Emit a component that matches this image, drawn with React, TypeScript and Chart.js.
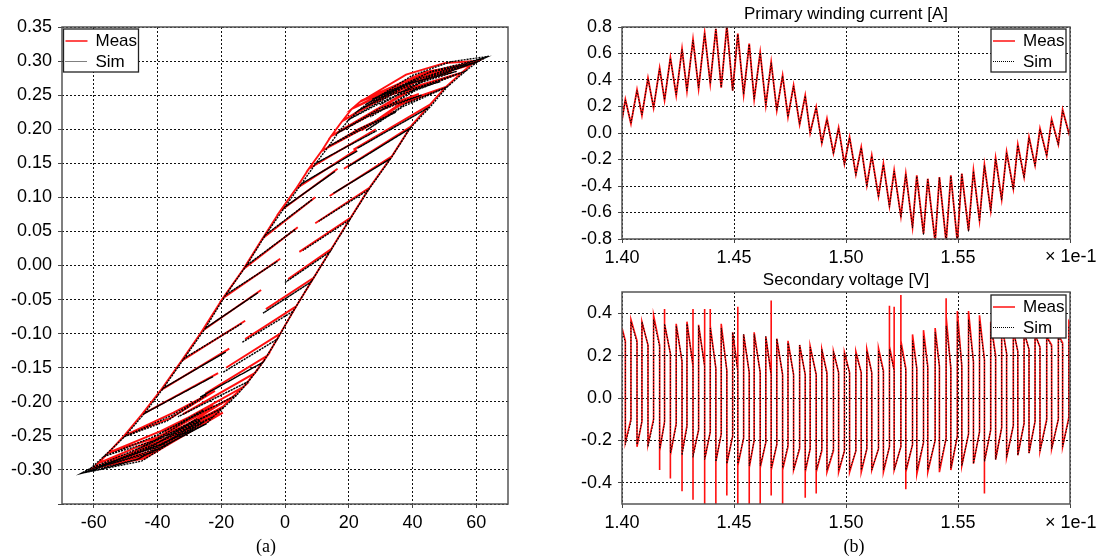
import React, { useEffect, useRef } from "react";
import { Chart, registerables } from "chart.js";

Chart.register(...registerables);

const SANS = '"Liberation Sans", Arial, Helvetica, sans-serif';
const SERIF = '"Liberation Serif", "Times New Roman", serif';
const RED = "#ff1010";

// ---------------- (a) B-H loop ----------------
const hystXTicks = [-60, -40, -20, 0, 20, 40, 60];
const hystYTicks = [-0.35, -0.3, -0.25, -0.2, -0.15, -0.1, -0.05, 0, 0.05, 0.1, 0.15, 0.2, 0.25, 0.3, 0.35];

// simulated trajectory [H, B]
const hystSimPath: [number, number][] = [
  [0, -0.025], [14.1, 0.02], [20.3, 0.067], [5.6, 0.022], [20.3, 0.067], [26.2, 0.111], [10.6, 0.065], [26.2, 0.111],
  [33.2, 0.157], [15.2, 0.106], [33.2, 0.157], [39.2, 0.201], [19.8, 0.145], [39.2, 0.201], [45.6, 0.233], [22.7, 0.172],
  [45.6, 0.233], [50.9, 0.262], [37, 0.233], [25.4, 0.198], [38, 0.238], [50.9, 0.262], [56.6, 0.285], [41, 0.257],
  [26.8, 0.218], [42, 0.262], [56.6, 0.285], [60.4, 0.299], [44, 0.272], [29.8, 0.236], [45, 0.277], [60.4, 0.299],
  [63, 0.305], [46, 0.285], [27.4, 0.244], [42, 0.274], [64, 0.307], [52, 0.299], [40, 0.279], [25.6, 0.237],
  [40, 0.268], [60, 0.298], [45, 0.283], [25.6, 0.237], [23.2, 0.228], [37, 0.26], [53.9, 0.285], [38, 0.266],
  [23.2, 0.228], [20.3, 0.215], [33, 0.246], [48.8, 0.27], [34, 0.252], [20.3, 0.215], [16.7, 0.195], [29, 0.226],
  [42.9, 0.25], [30, 0.231], [16.7, 0.195], [13.7, 0.175], [24, 0.202], [34.8, 0.225], [13.7, 0.175], [9.7, 0.15],
  [28.8, 0.198], [9.7, 0.15], [5.2, 0.12], [22.7, 0.168], [5.2, 0.12], [0, 0.086], [15.7, 0.138], [0, 0.086],
  [-6.1, 0.045], [8.6, 0.097], [-6.1, 0.045], [-12.1, 0], [3.2, 0.053], [-12.1, 0], [-18.6, -0.043], [-2.4, 0.006],
  [-18.6, -0.043], [-25, -0.092], [-8.5, -0.04], [-25, -0.092], [-31.6, -0.136], [-13.5, -0.085], [-31.6, -0.136], [-38.2, -0.18],
  [-18.6, -0.127], [-38.2, -0.18], [-44.1, -0.217], [-22.6, -0.163], [-44.1, -0.217], [-50.3, -0.251], [-37, -0.228], [-24.6, -0.19],
  [-36, -0.221], [-50.3, -0.251], [-56.8, -0.28], [-41, -0.257], [-25.6, -0.212], [-40, -0.249], [-56.8, -0.28], [-60.8, -0.297],
  [-44, -0.272], [-27.6, -0.225], [-43, -0.263], [-60.8, -0.297], [-64, -0.305], [-46, -0.284], [-26.6, -0.228], [-45, -0.272],
  [-64, -0.305], [-45, -0.287], [-25.6, -0.23], [-44, -0.275], [-64, -0.305], [-57, -0.298], [-46.6, -0.285], [-36.1, -0.26],
  [-24.6, -0.232], [-42, -0.268], [-58.8, -0.296], [-42, -0.275], [-24.6, -0.232], [-22.6, -0.222], [-38, -0.256], [-52.7, -0.285],
  [-38, -0.262], [-22.6, -0.222], [-19.1, -0.208], [-33, -0.241], [-46.7, -0.27], [-19.1, -0.208], [-15.1, -0.19], [-40, -0.248],
  [-15.1, -0.19], [-11.4, -0.17], [-33.6, -0.222], [-11.4, -0.17], [-6.9, -0.142], [-26.6, -0.193], [-6.9, -0.142], [-2.4, -0.108],
  [-19.5, -0.157], [-2.4, -0.108], [2.6, -0.067], [-13.5, -0.113], [2.6, -0.067], [8.2, -0.024], [-6.9, -0.07], [8.2, -0.024],
  [14.1, 0.02], [0, -0.025],
];

// measured trajectory [H, B]
const hystMeasPath: [number, number][] = [
  [1, -0.02], [14.5, 0.024], [20.6, 0.07], [4.5, 0.02], [20.6, 0.07], [26.5, 0.114], [9.5, 0.062], [26.5, 0.114],
  [33.5, 0.16], [14, 0.102], [33.5, 0.16], [39.5, 0.204], [18.5, 0.142], [39.5, 0.204], [45.5, 0.236], [21.5, 0.17],
  [45.5, 0.236], [50.5, 0.262], [36, 0.235], [24, 0.198], [37, 0.24], [50.5, 0.262], [55.5, 0.283], [40, 0.258],
  [25.5, 0.22], [41, 0.263], [55.5, 0.283], [58.5, 0.295], [43, 0.274], [28, 0.238], [44, 0.279], [58.5, 0.295],
  [60.5, 0.3], [45, 0.284], [25.5, 0.244], [41, 0.276], [60, 0.3], [50, 0.297], [38, 0.28], [23.5, 0.24],
  [39, 0.272], [57.5, 0.295], [44, 0.284], [24, 0.242], [21, 0.23], [36, 0.263], [52.5, 0.284], [37, 0.268],
  [21, 0.23], [18, 0.212], [32, 0.249], [47.5, 0.27], [33, 0.255], [18, 0.212], [14.5, 0.19], [28, 0.224],
  [42, 0.252], [29, 0.23], [14.5, 0.19], [11.5, 0.168], [23, 0.2], [34.5, 0.226], [11.5, 0.168], [7.5, 0.142],
  [28.5, 0.2], [7.5, 0.142], [3.5, 0.113], [22.5, 0.17], [3.5, 0.113], [-1.5, 0.08], [16.5, 0.142], [-1.5, 0.08],
  [-7, 0.04], [9.5, 0.1], [-7, 0.04], [-13, -0.005], [4, 0.056], [-13, -0.005], [-19.5, -0.048], [-1.5, 0.01],
  [-19.5, -0.048], [-26, -0.096], [-7.5, -0.036], [-26, -0.096], [-32.5, -0.14], [-12.5, -0.081], [-32.5, -0.14], [-39, -0.183],
  [-17.5, -0.122], [-39, -0.183], [-45, -0.219], [-21, -0.158], [-45, -0.219], [-50.5, -0.25], [-36, -0.224], [-22, -0.184],
  [-35, -0.216], [-50.5, -0.25], [-55.5, -0.275], [-40, -0.252], [-22.5, -0.205], [-39, -0.243], [-55.5, -0.275], [-58.5, -0.29],
  [-42, -0.266], [-21, -0.212], [-41, -0.256], [-58.5, -0.29], [-60.5, -0.298], [-44, -0.28], [-20.5, -0.215], [-43, -0.266],
  [-60.5, -0.298], [-44, -0.283], [-19.5, -0.216], [-42, -0.268], [-60, -0.297], [-54, -0.292], [-44, -0.277], [-33, -0.25],
  [-21, -0.215], [-40, -0.262], [-57, -0.292], [-40, -0.27], [-21, -0.215], [-19.5, -0.207], [-36, -0.25], [-51, -0.28],
  [-36, -0.256], [-19.5, -0.207], [-16.5, -0.193], [-31, -0.234], [-45, -0.265], [-16.5, -0.193], [-13, -0.178], [-38, -0.243],
  [-13, -0.178], [-9.5, -0.158], [-32, -0.218], [-9.5, -0.158], [-5.5, -0.132], [-25, -0.188], [-5.5, -0.132], [-1.5, -0.1],
  [-18.5, -0.15], [-1.5, -0.1], [3.5, -0.06], [-12.5, -0.108], [3.5, -0.06], [9, -0.018], [-6, -0.064], [9, -0.018],
  [14.5, 0.024], [1, -0.02],
];

// ---------------- (b) time signals (time in units of 1e-1 s) ----------------
const timeTicks = [1.4, 1.45, 1.5, 1.55, 1.6];
const currentTicks = [-0.8, -0.6, -0.4, -0.2, 0, 0.2, 0.4, 0.6, 0.8];
const voltageTicks = [-0.4, -0.2, 0, 0.2, 0.4];
const timeStart = 1.4;
const timeEnd = 1.6;

// switching instants: current peaks (voltage falls) and current valleys (voltage rises)
const peakTime = [
  1.4015, 1.4067, 1.4116, 1.4168, 1.4216, 1.4268, 1.4317, 1.4369, 1.4419, 1.4468,
  1.4517, 1.4568, 1.4617, 1.4666, 1.4717, 1.4766, 1.4818, 1.4867, 1.4915, 1.4967,
  1.5016, 1.5068, 1.5115, 1.5167, 1.5215, 1.5267, 1.5316, 1.5365, 1.5417, 1.5468,
  1.5517, 1.5569, 1.5618, 1.5668, 1.5717, 1.5767, 1.5817, 1.5866, 1.5918, 1.5967,
];
const valleyTime = [
  1.404, 1.4089, 1.4141, 1.419, 1.4242, 1.429, 1.4342, 1.4394, 1.4443, 1.4494,
  1.4543, 1.459, 1.4642, 1.4691, 1.4741, 1.4793, 1.484, 1.4892, 1.4944, 1.4993,
  1.5044, 1.5093, 1.5145, 1.5194, 1.5245, 1.5297, 1.5346, 1.5398, 1.5447, 1.5497,
  1.5547, 1.5596, 1.5646, 1.5695, 1.5747, 1.5795, 1.5844, 1.5896, 1.5948, 1.5995,
];

// primary current [A]
const currentMeasStart = 0.1;
const currentMeasEnd = 0.03;
const currentMeasPeak = [
  0.254, 0.327, 0.415, 0.49, 0.57, 0.636, 0.707, 0.755, 0.787, 0.81,
  0.75, 0.674, 0.61, 0.536, 0.435, 0.36, 0.284, 0.196, 0.108, 0.04,
  -0.03, -0.106, -0.169, -0.232, -0.282, -0.307, -0.32, -0.345, -0.332, -0.32,
  -0.307, -0.282, -0.239, -0.189, -0.143, -0.086, -0.03, 0.033, 0.103, 0.176,
];
const currentMeasValley = [
  0.07, 0.133, 0.19, 0.247, 0.284, 0.317, 0.335, 0.372, 0.342, 0.32,
  0.29, 0.254, 0.209, 0.171, 0.121, 0.065, 0.0, -0.076, -0.151, -0.232,
  -0.312, -0.395, -0.478, -0.551, -0.629, -0.71, -0.76, -0.82, -0.82, -0.82,
  -0.735, -0.659, -0.584, -0.5, -0.42, -0.332, -0.244, -0.169, -0.086, 0.0,
];
const currentSimStart = 0.09;
const currentSimEnd = 0.02;
const currentSimPeak = [
  0.25, 0.32, 0.41, 0.485, 0.565, 0.63, 0.7, 0.75, 0.785, 0.8,
  0.745, 0.67, 0.605, 0.53, 0.43, 0.355, 0.28, 0.19, 0.1, 0.033,
  -0.036, -0.112, -0.175, -0.238, -0.288, -0.312, -0.326, -0.35, -0.337, -0.325,
  -0.312, -0.288, -0.245, -0.195, -0.15, -0.092, -0.036, 0.027, 0.097, 0.17,
];
const currentSimValley = [
  0.075, 0.137, 0.195, 0.25, 0.288, 0.32, 0.34, 0.375, 0.345, 0.322,
  0.292, 0.256, 0.21, 0.172, 0.122, 0.066, 0.0, -0.08, -0.158, -0.24,
  -0.32, -0.403, -0.486, -0.56, -0.638, -0.718, -0.77, -0.82, -0.82, -0.82,
  -0.745, -0.668, -0.592, -0.508, -0.428, -0.34, -0.25, -0.175, -0.092, -0.005,
];

// secondary voltage [V]
const voltMeasStart = 0.33;
const voltMeasEnd = 0.35;
const voltMeasHiPeak = [
  0.37, 0.36, 0.39, 0.35, 0.35, 0.36, 0.345, 0.34, 0.35, 0.31,
  0.3, 0.31, 0.29, 0.28, 0.27, 0.25, 0.245, 0.23, 0.22, 0.215,
  0.22, 0.23, 0.235, 0.245, 0.27, 0.3, 0.32, 0.33, 0.385, 0.41,
  0.41, 0.39, 0.36, 0.355, 0.32, 0.31, 0.3, 0.29, 0.3, 0.36,
];
const voltMeasHiEnd = [
  0.27, 0.27, 0.25, 0.25, 0.21, 0.17, 0.15, 0.15, 0.14, 0.13,
  0.13, 0.12, 0.12, 0.11, 0.11, 0.11, 0.11, 0.11, 0.12, 0.12,
  0.12, 0.12, 0.12, 0.13, 0.13, 0.14, 0.14, 0.15, 0.15, 0.14,
  0.15, 0.17, 0.18, 0.2, 0.21, 0.22, 0.23, 0.24, 0.25, 0.26,
];
const voltMeasLoStart = [
  -0.21, -0.23, -0.22, -0.25, -0.27, -0.26, -0.27, -0.29, -0.3, -0.31,
  -0.32, -0.33, -0.33, -0.34, -0.34, -0.34, -0.35, -0.35, -0.35, -0.35,
  -0.35, -0.35, -0.34, -0.35, -0.34, -0.35, -0.36, -0.35, -0.35, -0.34,
  -0.32, -0.31, -0.3, -0.29, -0.28, -0.27, -0.26, -0.25, -0.24, -0.23,
];
const voltMeasLoEnd = [
  -0.1, -0.11, -0.1, -0.11, -0.12, -0.13, -0.15, -0.16, -0.17, -0.18,
  -0.19, -0.2, -0.21, -0.22, -0.23, -0.24, -0.24, -0.25, -0.25, -0.25,
  -0.25, -0.24, -0.24, -0.23, -0.23, -0.22, -0.21, -0.2, -0.19, -0.18,
  -0.17, -0.16, -0.15, -0.14, -0.13, -0.12, -0.11, -0.1, -0.1, -0.09,
];
// measured switching overshoots (null = none)
const voltMeasSpikeDownHi = [
  null, null, null, null, null, null, 0.42, 0.42, null, null,
  0.43, null, null, 0.46, null, null, null, null, null, null,
  null, null, null, null, 0.43, null, null, null, null, null,
  null, null, null, null, null, null, null, null, null, null,
];
const voltMeasSpikeDownLo = [
  null, null, null, -0.34, -0.38, -0.44, -0.48, -0.52, -0.52, -0.46,
  -0.52, -0.52, -0.52, -0.46, -0.52, null, -0.47, -0.45, null, null,
  null, null, null, null, null, -0.43, null, null, null, null,
  null, null, -0.45, null, null, null, null, null, null, null,
];
const voltMeasSpikeUpHi = [
  null, null, null, 0.42, null, null, null, 0.42, null, null,
  null, null, null, null, null, null, null, null, null, null,
  null, null, null, 0.435, 0.486, null, null, null, 0.47, null,
  null, null, null, null, null, null, null, null, null, null,
];
const voltSimStart = 0.32;
const voltSimEnd = 0.34;
const voltSimHiPeak = [
  0.36, 0.36, 0.37, 0.35, 0.34, 0.35, 0.34, 0.33, 0.33, 0.31,
  0.3, 0.3, 0.29, 0.28, 0.26, 0.25, 0.24, 0.23, 0.22, 0.21,
  0.21, 0.22, 0.22, 0.23, 0.25, 0.27, 0.29, 0.31, 0.34, 0.36,
  0.37, 0.36, 0.35, 0.34, 0.32, 0.31, 0.3, 0.29, 0.29, 0.34,
];
const voltSimHiEnd = [
  0.26, 0.26, 0.25, 0.24, 0.21, 0.18, 0.16, 0.15, 0.14, 0.13,
  0.13, 0.12, 0.12, 0.11, 0.11, 0.11, 0.11, 0.11, 0.11, 0.12,
  0.12, 0.12, 0.12, 0.12, 0.13, 0.13, 0.14, 0.14, 0.15, 0.15,
  0.16, 0.17, 0.18, 0.19, 0.21, 0.22, 0.23, 0.24, 0.24, 0.25,
];
const voltSimLoStart = [
  -0.22, -0.22, -0.23, -0.24, -0.26, -0.27, -0.28, -0.29, -0.3, -0.31,
  -0.31, -0.32, -0.32, -0.33, -0.33, -0.34, -0.34, -0.34, -0.34, -0.34,
  -0.34, -0.34, -0.34, -0.34, -0.34, -0.34, -0.34, -0.34, -0.33, -0.33,
  -0.32, -0.31, -0.3, -0.29, -0.28, -0.27, -0.26, -0.25, -0.24, -0.23,
];
const voltSimLoEnd = [
  -0.11, -0.11, -0.11, -0.12, -0.13, -0.14, -0.15, -0.16, -0.17, -0.18,
  -0.19, -0.2, -0.21, -0.22, -0.22, -0.23, -0.24, -0.24, -0.24, -0.25,
  -0.25, -0.24, -0.24, -0.23, -0.23, -0.22, -0.21, -0.2, -0.19, -0.18,
  -0.17, -0.16, -0.15, -0.14, -0.13, -0.12, -0.11, -0.11, -0.1, -0.1,
];

// ---------------- builders ----------------
type Pt = { x: number; y: number };

function pathPoints(path: [number, number][]): Pt[] {
  return path.map(([x, y]) => ({ x, y }));
}

function currentPoints(start: number, peaks: number[], valleys: number[], end: number): Pt[] {
  const pts: Pt[] = [{ x: timeStart, y: start }];
  for (let k = 0; k < peakTime.length; k++) {
    pts.push({ x: peakTime[k], y: peaks[k] });
    pts.push({ x: valleyTime[k], y: valleys[k] });
  }
  pts.push({ x: timeEnd, y: end });
  return pts;
}

function voltagePoints(
  start: number, hiPeak: number[], hiEnd: number[], loStart: number[], loEnd: number[], end: number,
  spDownHi?: (number | null)[], spDownLo?: (number | null)[], spUpHi?: (number | null)[]
): Pt[] {
  const pts: Pt[] = [{ x: timeStart, y: start }];
  for (let k = 0; k < peakTime.length; k++) {
    const tp = peakTime[k];
    const tv = valleyTime[k];
    pts.push({ x: tp, y: hiEnd[k] });
    if (spDownHi && spDownHi[k] != null) pts.push({ x: tp, y: spDownHi[k] as number });
    if (spDownLo && spDownLo[k] != null) pts.push({ x: tp, y: spDownLo[k] as number });
    pts.push({ x: tp, y: loStart[k] });
    pts.push({ x: tv, y: loEnd[k] });
    if (spUpHi && spUpHi[k] != null) pts.push({ x: tv, y: spUpHi[k] as number });
    pts.push({ x: tv, y: hiPeak[k] });
  }
  pts.push({ x: timeEnd, y: end });
  return pts;
}

// ---------------- decoration plugin ----------------
function decorPlugin(opts: { legendSide: "left" | "right"; legendTop: number; title?: string; titleY?: number; exponentY?: number }) {
  return {
    id: "decor",
    afterDraw(chart: any) {
      const { ctx, chartArea: a } = chart;
      ctx.save();
      ctx.setLineDash([]);
      // frame
      ctx.strokeStyle = "#555";
      ctx.lineWidth = 1.5;
      ctx.strokeRect(a.left, a.top, a.right - a.left, a.bottom - a.top);
      // legend box
      const w = 75;
      const h = 43;
      const bx = opts.legendSide === "left" ? a.left + 1.5 : a.right - 4 - w;
      const by = a.top + opts.legendTop;
      ctx.fillStyle = "#fff";
      ctx.fillRect(bx, by, w, h);
      ctx.strokeStyle = "#222";
      ctx.lineWidth = 1.3;
      ctx.strokeRect(bx, by, w, h);
      ctx.strokeStyle = RED;
      ctx.lineWidth = 1.5;
      ctx.beginPath();
      ctx.moveTo(bx + 2, by + 12);
      ctx.lineTo(bx + 24, by + 12);
      ctx.stroke();
      ctx.strokeStyle = "#000";
      ctx.lineWidth = 1;
      ctx.setLineDash([1, 1]);
      ctx.beginPath();
      ctx.moveTo(bx + 2, by + 32.5);
      ctx.lineTo(bx + 24, by + 32.5);
      ctx.stroke();
      ctx.setLineDash([]);
      ctx.fillStyle = "#000";
      ctx.font = `17px ${SANS}`;
      ctx.textAlign = "left";
      ctx.textBaseline = "middle";
      ctx.fillText("Meas", bx + 32, by + 12);
      ctx.fillText("Sim", bx + 32, by + 33);
      if (opts.title) {
        ctx.textAlign = "center";
        ctx.font = `17px ${SANS}`;
        ctx.fillText(opts.title, (a.left + a.right) / 2, opts.titleY);
      }
      if (opts.exponentY != null) {
        ctx.textAlign = "left";
        ctx.font = `18px ${SANS}`;
        ctx.fillText("\u00d7 1e-1", a.right - 25, a.bottom + opts.exponentY);
      }
      ctx.restore();
    },
  };
}

function axis(tickValues: number[], min: number, max: number, fmt: (v: number) => string, isX: boolean, size: number) {
  return {
    type: "linear",
    min,
    max,
    afterBuildTicks: (s: any) => {
      s.ticks = tickValues.map((v) => ({ value: v }));
    },
    afterFit: (s: any) => {
      if (isX) s.height = size;
      else s.width = size;
    },
    grid: { color: "#111", lineWidth: 1, drawTicks: true, tickLength: 4, tickColor: "#444", tickWidth: 1 },
    border: { display: false, dash: [2, 2] },
    ticks: {
      color: "#000",
      font: { family: SANS, size: 18 },
      padding: isX ? 4 : 6,
      autoSkip: false,
      maxRotation: 0,
      callback: (v: any) => fmt(Number(v)),
    },
  };
}

function baseOptions(padding: any, scales: any) {
  return {
    responsive: false,
    animation: false,
    events: [],
    layout: { padding },
    plugins: { legend: { display: false }, tooltip: { enabled: false }, title: { display: false } },
    scales,
  };
}

function makeHystConfig() {
  return {
    type: "scatter",
    data: {
      datasets: [
        { data: pathPoints(hystSimPath), showLine: true, borderColor: "#000", borderWidth: 1.4, borderDash: [2, 1], pointRadius: 0, order: 0 },
        { data: pathPoints(hystMeasPath), showLine: true, borderColor: RED, borderWidth: 1.9, pointRadius: 0, order: 1 },
      ],
    },
    options: baseOptions({ top: 27, right: 22, left: 0, bottom: 0 }, {
      x: axis(hystXTicks, -70, 70, (v) => String(Math.round(v)), true, 36),
      y: axis(hystYTicks, -0.35, 0.35, (v) => (v < -0.34 ? "" : v.toFixed(2)), false, 62),
    }),
    plugins: [decorPlugin({ legendSide: "left", legendTop: 2 })],
  };
}

function makeCurrentConfig() {
  return {
    type: "scatter",
    data: {
      datasets: [
        { data: currentPoints(currentSimStart, currentSimPeak, currentSimValley, currentSimEnd), showLine: true, borderColor: "#000", borderWidth: 1, borderDash: [1.5, 1.5], pointRadius: 0, order: 0 },
        { data: currentPoints(currentMeasStart, currentMeasPeak, currentMeasValley, currentMeasEnd), showLine: true, borderColor: RED, borderWidth: 1.8, pointRadius: 0, order: 1 },
      ],
    },
    options: baseOptions({ top: 27, right: 31, left: 0, bottom: 0 }, {
      x: axis(timeTicks, 1.4, 1.6, (v) => (v > 1.59 ? "" : v.toFixed(2)), true, 31),
      y: axis(currentTicks, -0.8, 0.8, (v) => v.toFixed(1), false, 62),
    }),
    plugins: [decorPlugin({ legendSide: "right", legendTop: 2, title: "Primary winding current [A]", titleY: 14, exponentY: 18 })],
  };
}

function makeVoltageConfig() {
  return {
    type: "scatter",
    data: {
      datasets: [
        { data: voltagePoints(voltSimStart, voltSimHiPeak, voltSimHiEnd, voltSimLoStart, voltSimLoEnd, voltSimEnd), showLine: true, borderColor: "#000", borderWidth: 1, borderDash: [1.5, 1.5], pointRadius: 0, order: 0 },
        {
          data: voltagePoints(voltMeasStart, voltMeasHiPeak, voltMeasHiEnd, voltMeasLoStart, voltMeasLoEnd, voltMeasEnd, voltMeasSpikeDownHi, voltMeasSpikeDownLo, voltMeasSpikeUpHi),
          showLine: true, borderColor: RED, borderWidth: 1.6, pointRadius: 0, order: 1,
        },
      ],
    },
    options: baseOptions({ top: 22, right: 31, left: 0, bottom: 0 }, {
      x: axis(timeTicks, 1.4, 1.6, (v) => (v > 1.59 ? "" : v.toFixed(2)), true, 53),
      y: axis(voltageTicks, -0.5, 0.5, (v) => v.toFixed(1), false, 62),
    }),
    plugins: [decorPlugin({ legendSide: "right", legendTop: 3, title: "Secondary voltage [V]", titleY: 10, exponentY: 19 })],
  };
}

function ChartCanvas(props: { make: () => any; left: number; top: number; width: number; height: number }) {
  const ref = useRef<HTMLCanvasElement | null>(null);
  useEffect(() => {
    if (!ref.current) return;
    const chart = new Chart(ref.current, props.make());
    return () => chart.destroy();
  }, []);
  return (
    <canvas
      ref={ref}
      width={props.width}
      height={props.height}
      style={{ position: "absolute", left: props.left, top: props.top, width: props.width, height: props.height }}
    />
  );
}

export default function App() {
  Chart.defaults.font.family = SANS;
  Chart.defaults.color = "#000";
  return (
    <div style={{ position: "absolute", left: 0, top: 0, width: 1101, height: 557, background: "#fff", overflow: "hidden" }}>
      <ChartCanvas make={makeHystConfig} left={0} top={0} width={530} height={540} />
      <ChartCanvas make={makeCurrentConfig} left={560} top={0} width={541} height={270} />
      <ChartCanvas make={makeVoltageConfig} left={560} top={270} width={541} height={287} />
      <div style={{ position: "absolute", left: 236, top: 536, width: 60, textAlign: "center", font: `18px ${SERIF}`, lineHeight: "20px", color: "#000" }}>(a)</div>
      <div style={{ position: "absolute", left: 824, top: 536, width: 60, textAlign: "center", font: `18px ${SERIF}`, lineHeight: "20px", color: "#000" }}>(b)</div>
    </div>
  );
}
